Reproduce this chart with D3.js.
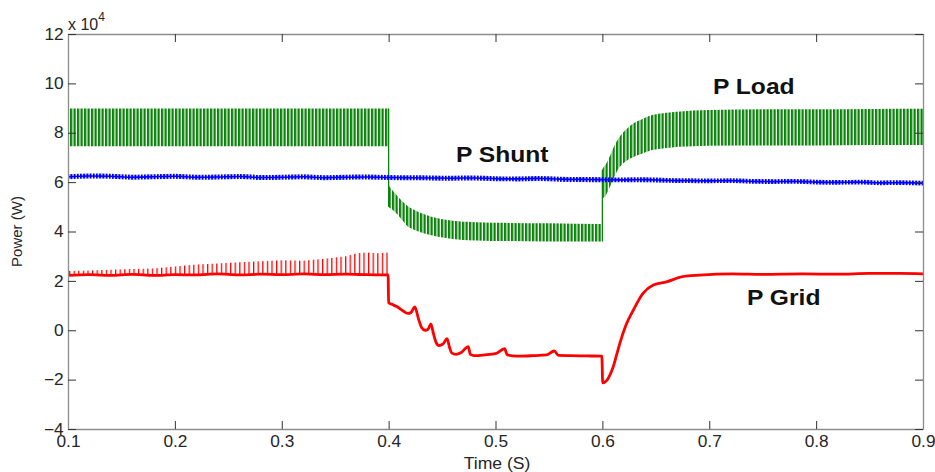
<!DOCTYPE html>
<html>
<head>
<meta charset="utf-8">
<script src="https://cdn.jsdelivr.net/npm/d3@7"></script>
<style>
  html, body { margin: 0; padding: 0; background: #fff; }
  svg { display: block; font-family: "Liberation Sans", Arial, Helvetica, sans-serif; }
</style>
</head>
<body>
<svg id="chart" width="935" height="472"></svg>
<script>
// Axis ticks: time in seconds, power in units of 10^4 W
const timeTicks = [0.1, 0.2, 0.3, 0.4, 0.5, 0.6, 0.7, 0.8, 0.9];
const powerTicks = [-4, -2, 0, 2, 4, 6, 8, 10, 12];

// P Load: upper and lower ripple envelope (10^4 W)
const loadTime = [0.1, 0.2, 0.3, 0.4, 0.4, 0.403, 0.408, 0.413, 0.418, 0.425, 0.432, 0.44, 0.446, 0.455, 0.465, 0.474, 0.49, 0.5, 0.55, 0.6,
                  0.6, 0.603, 0.607, 0.611, 0.616, 0.622, 0.629, 0.637, 0.645, 0.655, 0.665, 0.673, 0.685, 0.7, 0.75, 0.8, 0.85, 0.9];
const loadHigh = [8.98, 8.98, 8.98, 8.98, 5.9, 5.7, 5.45, 5.22, 5.02, 4.85, 4.72, 4.6, 4.54, 4.47, 4.42, 4.39, 4.36, 4.35, 4.33, 4.3,
                  6.5, 6.7, 7.05, 7.45, 7.83, 8.12, 8.38, 8.55, 8.7, 8.78, 8.83, 8.86, 8.9, 8.92, 8.95, 8.95, 8.96, 8.97];
const loadLow  = [7.45, 7.45, 7.45, 7.45, 5.0, 4.9, 4.7, 4.45, 4.2, 4.05, 3.94, 3.85, 3.79, 3.73, 3.68, 3.65, 3.63, 3.62, 3.6, 3.6,
                  5.3, 5.45, 5.8, 6.2, 6.6, 6.85, 7.02, 7.15, 7.28, 7.35, 7.4, 7.43, 7.45, 7.47, 7.48, 7.48, 7.5, 7.5];
// P Load switching edges: [time, from, to]
const loadEdges = [[0.4, 8.98, 5.0], [0.6, 3.6, 6.5]];

// P Shunt: mean level and ripple half-width (10^4 W)
const shuntTime  = [0.1, 0.12, 0.14, 0.16, 0.18, 0.2, 0.22, 0.24, 0.26, 0.28, 0.3, 0.32, 0.34, 0.36, 0.38, 0.4, 0.42, 0.44, 0.46, 0.48, 0.5,
                    0.52, 0.54, 0.56, 0.58, 0.6, 0.62, 0.64, 0.66, 0.68, 0.7, 0.72, 0.74, 0.76, 0.78, 0.8, 0.82, 0.84, 0.86, 0.88, 0.9];
const shuntValue = [6.22, 6.25, 6.24, 6.2, 6.22, 6.24, 6.2, 6.21, 6.23, 6.19, 6.2, 6.22, 6.18, 6.2, 6.21, 6.19, 6.18, 6.17, 6.16, 6.17, 6.14,
                    6.13, 6.15, 6.12, 6.11, 6.1, 6.09, 6.1, 6.07, 6.06, 6.05, 6.06, 6.03, 6.02, 6.03, 6.0, 5.99, 6.0, 5.97, 5.98, 5.96];
const shuntRipple = [0.1];

// P Grid: main trace (10^4 W)
const gridTime  = [0.1, 0.12, 0.14, 0.16, 0.18, 0.2, 0.22, 0.24, 0.26, 0.28, 0.3, 0.32, 0.34, 0.36, 0.38, 0.3995,
                   0.4, 0.403, 0.408, 0.413, 0.418, 0.421, 0.4245, 0.428, 0.431, 0.434, 0.437, 0.4395, 0.442, 0.4445, 0.447, 0.451, 0.4547,
                   0.457, 0.459, 0.463, 0.468, 0.4745, 0.4765, 0.48, 0.49, 0.5, 0.5085, 0.511, 0.52, 0.535, 0.548, 0.5549, 0.559, 0.57, 0.585, 0.5995,
                   0.6003, 0.6054, 0.61, 0.6133, 0.6164, 0.622, 0.629, 0.638, 0.6476, 0.66, 0.675, 0.691, 0.722, 0.75, 0.785, 0.82, 0.85, 0.878, 0.9];
const gridValue = [2.22, 2.25, 2.22, 2.26, 2.22, 2.25, 2.24, 2.28, 2.24, 2.27, 2.25, 2.28, 2.25, 2.27, 2.25, 2.24,
                   1.11, 1.05, 0.95, 0.8, 0.68, 0.72, 0.95, 0.45, 0.1, 0.0, 0.05, 0.26, -0.15, -0.5, -0.62, -0.55, -0.34,
                   -0.7, -0.92, -0.98, -0.9, -0.66, -0.98, -1.03, -1.0, -0.95, -0.75, -1.0, -1.05, -1.03, -1.0, -0.84, -1.02, -1.03, -1.04, -1.05,
                   -2.13, -1.95, -1.5, -1.0, -0.52, 0.2, 0.82, 1.49, 1.83, 1.96, 2.17, 2.23, 2.28, 2.26, 2.28, 2.27, 2.3, 2.3, 2.28];
// P Grid: spike tops before the load step
const gridSpikeTime = [0.1, 0.12, 0.14, 0.16, 0.18, 0.2, 0.22, 0.24, 0.26, 0.28, 0.3, 0.32, 0.34, 0.36, 0.37, 0.38, 0.39, 0.3995];
const gridSpikeTop  = [2.4, 2.42, 2.45, 2.48, 2.5, 2.58, 2.66, 2.7, 2.75, 2.8, 2.84, 2.82, 2.9, 3.0, 3.12, 3.15, 3.12, 3.15];
const gridSpikeBase = [2.24];

const svg = d3.select("#chart");
const plotLeft = 68, plotRight = 923, plotTop = 34, plotBottom = 429;

const x = d3.scaleLinear().domain([0.1, 0.9]).range([plotLeft, plotRight]);
const y = d3.scaleLinear().domain([-4, 12]).range([plotBottom, plotTop]);

const defs = svg.append("defs");
defs.append("clipPath").attr("id", "plot-clip")
  .append("rect").attr("x", plotLeft).attr("y", plotTop)
  .attr("width", plotRight - plotLeft + 1).attr("height", plotBottom - plotTop + 1);

// vertical-stripe fills that render the switching ripple inside each envelope
function stripes(id, color, period, width) {
  const p = defs.append("pattern").attr("id", id)
    .attr("patternUnits", "userSpaceOnUse")
    .attr("width", period).attr("height", 20);
  p.append("rect").attr("x", 0).attr("y", 0).attr("width", width).attr("height", 20).attr("fill", color);
}
stripes("ripple-green", "#088408", 3.5, 2.3);
stripes("ripple-blue", "#0000f0", 3.2, 2.0);
stripes("ripple-red", "#ff0000", 4.6, 1.3);

const plot = svg.append("g").attr("clip-path", "url(#plot-clip)");

// P Load
const loadRows = loadTime.map((t, i) => ({ t, hi: loadHigh[i], lo: loadLow[i] }));
plot.append("path")
  .datum(loadRows)
  .attr("fill", "url(#ripple-green)")
  .attr("d", d3.area().x(d => x(d.t)).y0(d => y(d.lo)).y1(d => y(d.hi)).curve(d3.curveMonotoneX));
plot.selectAll(".load-edge").data(loadEdges).join("line")
  .attr("class", "load-edge")
  .attr("x1", d => x(d[0])).attr("x2", d => x(d[0]))
  .attr("y1", d => y(d[1])).attr("y2", d => y(d[2]))
  .attr("stroke", "#088408").attr("stroke-width", 1.3);

// P Shunt
const shuntRows = shuntTime.map((t, i) => ({ t, v: shuntValue[i] }));
plot.append("path")
  .datum(shuntRows)
  .attr("fill", "url(#ripple-blue)")
  .attr("d", d3.area().x(d => x(d.t))
    .y0(d => y(d.v - shuntRipple[0])).y1(d => y(d.v + shuntRipple[0])).curve(d3.curveMonotoneX));
plot.append("path")
  .datum(shuntRows)
  .attr("fill", "none").attr("stroke", "#0000ff").attr("stroke-width", 1.6)
  .attr("d", d3.line().x(d => x(d.t)).y(d => y(d.v)).curve(d3.curveMonotoneX));

// P Grid
const spikeRows = gridSpikeTime.map((t, i) => ({ t, v: gridSpikeTop[i] }));
plot.append("path")
  .datum(spikeRows)
  .attr("fill", "url(#ripple-red)")
  .attr("d", d3.area().x(d => x(d.t)).y0(y(gridSpikeBase[0])).y1(d => y(d.v)));
const gridRows = gridTime.map((t, i) => ({ t, v: gridValue[i] }));
plot.append("path")
  .datum(gridRows)
  .attr("fill", "none").attr("stroke", "#ff0000").attr("stroke-width", 2.8)
  .attr("stroke-linejoin", "round")
  .attr("d", d3.line().x(d => x(d.t)).y(d => y(d.v)).curve(d3.curveMonotoneX));

// axes box with inward ticks on all four sides
const axisStyle = g => {
  g.select(".domain").attr("stroke", "#8c8c8c").attr("stroke-width", 1.3);
  g.selectAll(".tick line").attr("stroke", "#333");
  g.selectAll(".tick text").attr("fill", "#262626").style("font-size", "16px");
};
const fmtT = d3.format(".1f");
svg.append("g").attr("transform", `translate(0,${plotBottom})`)
  .call(d3.axisBottom(x).tickValues(timeTicks).tickFormat(fmtT).tickSize(-8).tickSizeOuter(0).tickPadding(7))
  .call(axisStyle)
  .call(g => g.selectAll(".tick text").attr("transform", "scale(1.08,1)"));
svg.append("g").attr("transform", `translate(0,${plotTop})`)
  .call(d3.axisTop(x).tickValues(timeTicks).tickFormat("").tickSize(-8).tickSizeOuter(0))
  .call(axisStyle);
svg.append("g").attr("transform", `translate(${plotLeft},0)`)
  .call(d3.axisLeft(y).tickValues(powerTicks).tickFormat(d3.format("d")).tickSize(-8).tickSizeOuter(0).tickPadding(4))
  .call(axisStyle)
  .call(g => g.selectAll(".tick text").attr("transform", "scale(1.08,1)"));
svg.append("g").attr("transform", `translate(${plotRight},0)`)
  .call(d3.axisRight(y).tickValues(powerTicks).tickFormat("").tickSize(-8).tickSizeOuter(0))
  .call(axisStyle);

// exponent marker
const expo = svg.append("text").attr("x", 68).attr("y", 30)
  .attr("fill", "#262626").style("font-size", "16px");
expo.append("tspan").text("x 10");
expo.append("tspan").attr("dy", -9).style("font-size", "12px").text("4");

// axis titles
svg.append("text")
  .attr("transform", `translate(22,${(plotTop + plotBottom) / 2}) rotate(-90)`)
  .attr("text-anchor", "middle").attr("fill", "#262626").style("font-size", "15px")
  .text("Power (W)");
svg.append("text")
  .attr("transform", `translate(497,469) scale(1.1,1)`)
  .attr("text-anchor", "middle").attr("fill", "#262626").style("font-size", "16px")
  .text("Time (S)");

// series labels
const seriesLabels = [
  { text: "P Load", x: 713, y: 94 },
  { text: "P Shunt", x: 456, y: 162 },
  { text: "P Grid", x: 747, y: 305 }
];
svg.selectAll(".series-label").data(seriesLabels).join("text")
  .attr("class", "series-label")
  .attr("transform", d => `translate(${d.x},${d.y}) scale(1.12,1)`)
  .attr("fill", "#111").style("font-size", "22px").style("font-weight", "bold")
  .text(d => d.text);
</script>
</body>
</html>
